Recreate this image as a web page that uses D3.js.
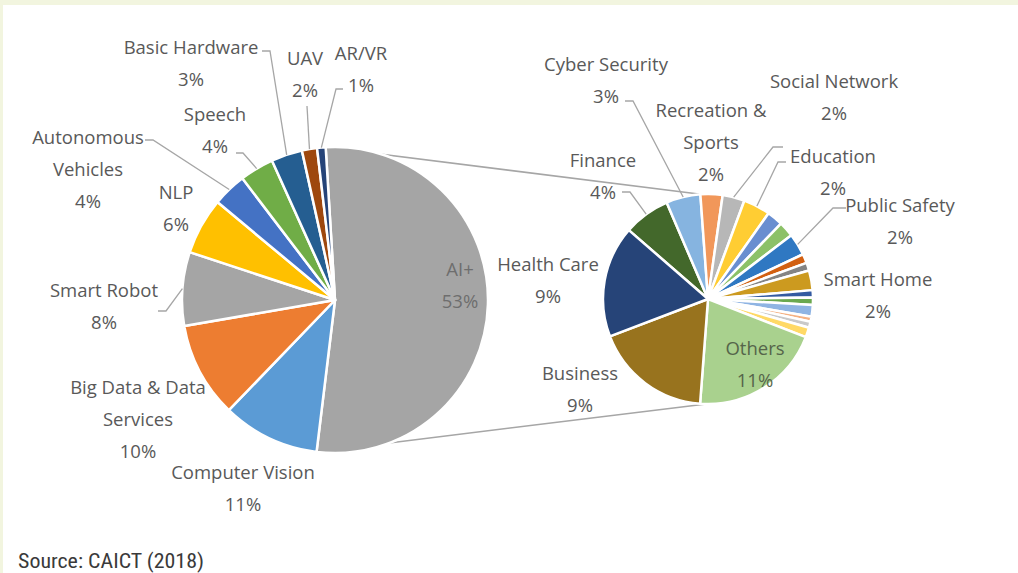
<!DOCTYPE html>
<html>
<head>
<meta charset="utf-8">
<script src="https://cdn.jsdelivr.net/npm/d3@7"></script>
<style>
  body { margin: 0; background: #f2f5df; }
  svg { display: block; }
</style>
</head>
<body>
<svg id="chart" width="1018" height="573"></svg>
<script>
// main pie: segments other than AI+ (% of total)
const mainNames = ['Computer Vision', 'Big Data & Data\nServices', 'Smart Robot', 'NLP', 'Autonomous\nVehicles', 'Speech', 'Basic Hardware', 'UAV', 'AR/VR'];
const mainValues = [10.3, 10.1, 7.8, 6.0, 3.6, 3.6, 3.3, 1.6, 0.9];
const mainPct = ['11%', '10%', '8%', '6%', '4%', '4%', '3%', '2%', '1%'];
const mainColors = ['#5b9bd5', '#ed7d31', '#a5a5a5', '#ffc000', '#4472c4', '#70ad47', '#255e91', '#9e480e', '#264478'];

// AI+ breakdown (second pie), clockwise from Finance
const aiNames = ['Finance', 'Cyber Security', 'Recreation &\nSports', 'Social Network', 'Education', null, null, 'Public Safety', null, null, 'Smart Home', null, null, null, null, null, null, 'Others', 'Business', 'Health Care'];
const aiValues = [3.8, 2.8, 1.8, 1.8, 2.2, 1.3, 1.25, 1.8, 0.75, 0.65, 1.6, 0.6, 0.6, 0.95, 0.4, 0.5, 0.8, 10.75, 9.55, 9.1];
const aiPct = ['4%', '3%', '2%', '2%', '2%', null, null, '2%', null, null, '2%', null, null, null, null, null, null, '11%', '9%', '9%'];
const aiColors = ['#43682b', '#86b4e0', '#f1975a', '#b7b7b7', '#ffcd33', '#698ed0', '#8cc168', '#2f78c2', '#d26012', '#848484', '#cc9a1f', '#335aa1', '#6aa84f', '#8fb4e3', '#f4b183', '#c9c9c9', '#ffd966', '#a9d18e', '#98731e', '#264478'];

const aiName = 'AI+';
const aiPctLabel = '53%';
const source = 'Source: CAICT (2018)';

// label placement (first line centre) and leader start / elbow
const labelLayout = {
  'AI+': { at: [460, 268], color: '#6e6e6e' },
  'Computer Vision': { at: [243, 471] },
  'Big Data & Data\nServices': { at: [138, 386] },
  'Smart Robot': { at: [104, 289], leader: [[158, 311], [166, 311]] },
  'NLP': { at: [176, 191] },
  'Autonomous\nVehicles': { at: [88, 136], leader: [[145, 140], [153, 140]] },
  'Speech': { at: [215, 113], leader: [[236, 153], [243, 153]] },
  'Basic Hardware': { at: [191, 46], leader: [[262, 51], [270, 51]] },
  'UAV': { at: [305, 57], leader: [[307, 106]] },
  'AR/VR': { at: [361, 52], leader: [[343, 89], [336, 89]] },
  'Finance': { at: [603, 159], leader: [[622, 192], [630, 192]] },
  'Cyber Security': { at: [606, 63], leader: [[625, 101], [633, 101]] },
  'Recreation &\nSports': { at: [711, 109] },
  'Social Network': { at: [834, 80], leader: [[783, 147], [773, 147]] },
  'Education': { at: [833, 155], leader: [[786, 162], [778, 162]] },
  'Public Safety': { at: [900, 204], leader: [[846, 208], [833, 208]] },
  'Smart Home': { at: [878, 278] },
  'Others': { at: [755, 347], color: '#55654a' },
  'Business': { at: [580, 372] },
  'Health Care': { at: [548, 263] },
};

const W = 1018, H = 573;
const left = { cx: 335, cy: 300, r: 153, start: -3.5 };
const right = { cx: 708, cy: 299, r: 105, start: -49 };
const lineH = 32;
const labelColor = '#595959';
const lineColor = '#a6a6a6';
const rad = (deg) => (deg * Math.PI) / 180;

const svg = d3.select('#chart');

svg.append('rect')
  .attr('x', 3).attr('y', 5)
  .attr('width', W - 3).attr('height', H - 5)
  .attr('fill', '#fff');

const aiTotal = d3.sum(aiValues);

const mainData = [{ name: aiName, value: aiTotal, pct: aiPctLabel, color: '#a5a5a5' }].concat(
  mainNames.map((n, i) => ({ name: n, value: mainValues[i], pct: mainPct[i], color: mainColors[i] }))
);
const aiData = aiNames.map((n, i) => ({ name: n, value: aiValues[i], pct: aiPct[i], color: aiColors[i] }));

const makePie = (start) => d3.pie()
  .sort(null)
  .value((d) => d.value)
  .startAngle(rad(start))
  .endAngle(rad(start) + 2 * Math.PI);

const mainArcs = makePie(left.start)(mainData);
const aiArcs = makePie(right.start)(aiData);

const pointOn = (pie, angle, r) => [pie.cx + r * Math.sin(angle), pie.cy - r * Math.cos(angle)];

// connector lines between the AI+ slice and the second pie
const aiArc = mainArcs[0];
const connectors = [
  [pointOn(left, aiArc.startAngle, left.r), pointOn(right, rad(-4), right.r)],
  [pointOn(left, aiArc.endAngle, left.r), pointOn(right, rad(181), right.r)],
];
svg.append('g')
  .selectAll('line')
  .data(connectors)
  .enter()
  .append('line')
  .attr('x1', (d) => d[0][0]).attr('y1', (d) => d[0][1])
  .attr('x2', (d) => d[1][0]).attr('y2', (d) => d[1][1])
  .attr('stroke', lineColor)
  .attr('stroke-width', 1.5);

const drawPie = (pie, arcs) => {
  const arc = d3.arc().innerRadius(0).outerRadius(pie.r);
  const g = svg.append('g').attr('transform', `translate(${pie.cx},${pie.cy})`);
  g.selectAll('path')
    .data(arcs)
    .enter()
    .append('path')
    .attr('d', arc)
    .attr('fill', (d) => d.data.color)
    .attr('stroke', '#fff')
    .attr('stroke-width', 2.5)
    .attr('stroke-linejoin', 'round');
};
drawPie(left, mainArcs);
drawPie(right, aiArcs);

const drawLabels = (pie, arcs) => {
  arcs.forEach((a) => {
    const d = a.data;
    if (!d.name) return;
    const lay = labelLayout[d.name];
    if (!lay) return;

    if (lay.leader) {
      const mid = (a.startAngle + a.endAngle) / 2;
      const pts = lay.leader.concat([pointOn(pie, mid, pie.r)]);
      svg.append('path')
        .attr('d', d3.line()(pts))
        .attr('fill', 'none')
        .attr('stroke', lineColor)
        .attr('stroke-width', 1.3);
    }

    const lines = d.name.split('\n').concat([d.pct]);
    const text = svg.append('text')
      .attr('x', lay.at[0])
      .attr('y', lay.at[1])
      .attr('text-anchor', 'middle')
      .attr('dominant-baseline', 'central')
      .attr('font-family', '"Open Sans", "Noto Sans", sans-serif')
      .attr('font-size', 18.5)
      .attr('fill', lay.color || labelColor);
    lines.forEach((t, i) => {
      text.append('tspan')
        .attr('x', lay.at[0])
        .attr('y', lay.at[1] + i * lineH)
        .text(t);
    });
  });
};
drawLabels(left, mainArcs);
drawLabels(right, aiArcs);

svg.append('text')
  .attr('x', 18)
  .attr('y', 568)
  .attr('font-family', '"Liberation Sans Narrow", "Roboto Condensed", "Liberation Sans", sans-serif')
  .attr('font-size', 20)
  .attr('fill', '#3a3a3a')
  .attr('textLength', 186)
  .attr('lengthAdjust', 'spacingAndGlyphs')
  .text(source);
</script>
</body>
</html>
